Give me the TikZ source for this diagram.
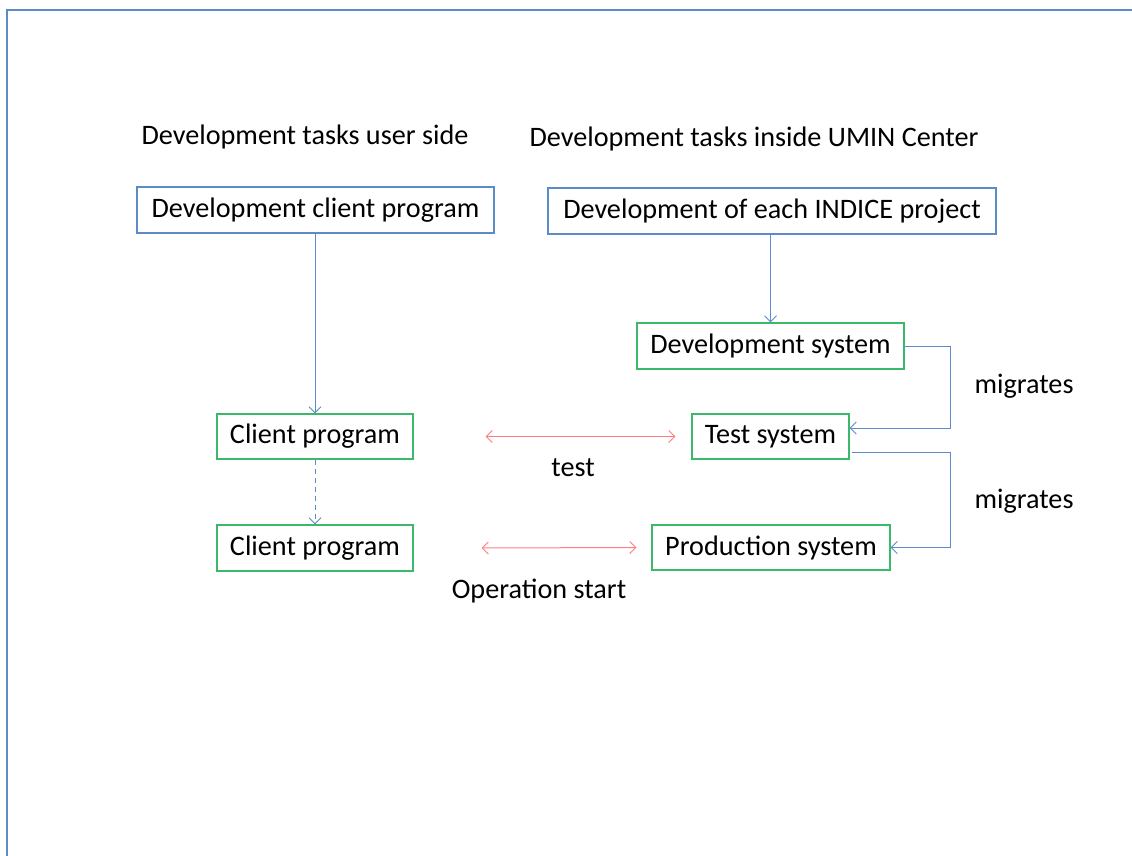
\documentclass[tikz,border=0pt]{standalone}
\usepackage{fontspec}
\setmainfont{Carlito}
\usetikzlibrary{arrows.meta}
\definecolor{bblue}{HTML}{5B8BC9}
\definecolor{bgreen}{HTML}{3CB86A}
\definecolor{pinkred}{HTML}{FF7C80}
\begin{document}
\begin{tikzpicture}[x=1pt,y=1pt,
  font=\fontsize{28.2}{34}\selectfont,
  bluebox/.style={draw=bblue,line width=1.1pt,inner sep=0pt},
  greenbox/.style={draw=bgreen,line width=1.1pt,inner sep=0pt},
  flow/.style={draw=bblue,line width=1pt,-{Straight Barb[length=6pt,width=12pt]}},
  dflow/.style={flow,dash pattern=on 5pt off 4pt},
  twoway/.style={draw=pinkred,line width=1pt,{Straight Barb[length=6pt,width=12pt]}-{Straight Barb[length=6pt,width=12pt]}},
  lbl/.style={inner sep=0pt}]
\useasboundingbox (0,0) rectangle (1132,-856);
\draw[bblue,line width=2.6pt] (7,-856) -- (7,-10) -- (1132,-10);

\node[lbl] (t1) at (305,-137) {Development tasks user side};
\node[lbl] (t2) at (754,-139) {Development tasks inside UMIN Center};

\node[bluebox,minimum width=357,minimum height=46] (A) at (315.5,-210) {Development client program};
\node[bluebox,minimum width=448,minimum height=46] (B) at (772,-211) {Development of each INDICE project};
\node[greenbox,minimum width=267,minimum height=46] (C) at (770.5,-346) {Development system};
\node[greenbox,minimum width=196,minimum height=45] (D) at (315,-436.5) {Client program};
\node[greenbox,minimum width=157,minimum height=45] (E) at (770.5,-436.5) {Test system};
\node[greenbox,minimum width=196,minimum height=46] (F) at (315,-548) {Client program};
\node[greenbox,minimum width=238,minimum height=45] (G) at (771,-547.5) {Production system};

\coordinate (R) at (950,0);

\draw[flow] (A.south -| D.north) -- (D.north);
\draw[flow] (B.south -| C.north) -- (C.north);
\draw[dflow] (D.south) -- (F.north);
\draw[flow] (C.east) -- (C.east -| R) |- ([yshift=8.5pt]E.east);
\draw[flow] ([xshift=2pt,yshift=-15.5pt]E.east) -- ([yshift=-15.5pt]E.east -| R) |- (G.east);
\draw[twoway] ([xshift=72pt]D.east) -- ([xshift=-16pt]E.west);
\draw[twoway] ([xshift=68pt]F.east) -- ([xshift=-15pt]G.west);

\node[lbl] (m1) at (1024,-386) {migrates};
\node[lbl] (m2) at (1024,-501) {migrates};
\node[lbl] (lt) at (573,-468) {test};
\node[lbl] (lo) at (539,-591) {Operation start};
\end{tikzpicture}
\end{document}
